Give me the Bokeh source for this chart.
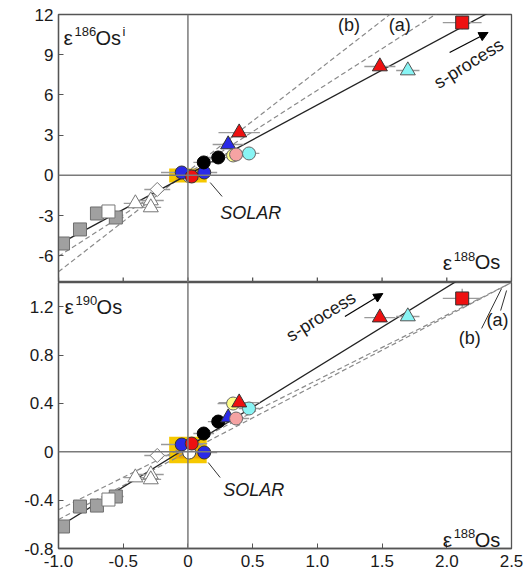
import math
from bokeh.plotting import figure
from bokeh.layouts import column
from bokeh.models import Range1d, FixedTicker, Label, Arrow, NormalHead, Span
from bokeh.embed import file_html
from bokeh.resources import INLINE

# ---------------- data (x = e188Os, top = e186Os_i, bottom = e190Os) -------------
gray_sq_x = [-0.965, -0.834, -0.703, -0.557]
gray_sq_186 = [-5.09, -4.04, -2.85, -3.15]
gray_sq_190 = [-0.618, -0.453, -0.445, -0.370]
gray_sq_xerr = [0.04, 0.05, 0.05, 0.06]

white_sq_x = [-0.614]
white_sq_186 = [-2.70]
white_sq_190 = [-0.395]
white_sq_xerr = [0.06]

white_tri_x = [-0.406, -0.287, -0.287]
white_tri_186 = [-2.10, -1.88, -2.40]
white_tri_190 = [-0.213, -0.188, -0.229]
white_tri_xerr = [0.09, 0.1, 0.08]

white_dia_x = [-0.237]
white_dia_186 = [-1.06]
white_dia_190 = [-0.031]
white_dia_xerr = [0.1]

white_circ_x = [0.010]
white_circ_186 = [-0.05]
white_circ_190 = [-0.006]
white_circ_xerr = [0.1]

blue_circ_x = [-0.048, 0.126]
blue_circ_186 = [0.21, 0.21]
blue_circ_190 = [0.060, -0.006]
blue_circ_xerr = [0.16, 0.1]

red_circ_x = [0.029]
red_circ_186 = [-0.09]
red_circ_190 = [0.068]
red_circ_xerr = [0.12]

black_circ_x = [0.122, 0.234]
black_circ_186 = [0.96, 1.33]
black_circ_190 = [0.151, 0.250]
black_circ_xerr = [0.08, 0.08]

blue_tri_x = [0.311]
blue_tri_186 = [2.30]
blue_tri_190 = [0.283]
blue_tri_xerr = [0.12]

yellow_circ_x = [0.349]
yellow_circ_186 = [1.48]
yellow_circ_190 = [0.399]
yellow_circ_xerr = [0.12]

pink_circ_x = [0.372]
pink_circ_186 = [1.55]
pink_circ_190 = [0.275]
pink_circ_xerr = [0.1]

cyan_circ_x = [0.472]
cyan_circ_186 = [1.63]
cyan_circ_190 = [0.358]
cyan_circ_xerr = [0.08]

red_tri_x = [0.396, 1.483]
red_tri_186 = [3.19, 8.12]
red_tri_190 = [0.407, 1.110]
red_tri_xerr = [0.16, 0.12]

cyan_tri_x = [1.699]
cyan_tri_186 = [7.82]
cyan_tri_190 = [1.119]
cyan_tri_xerr = [0.09]

red_sq_x = [2.119]
red_sq_186 = [11.40]
red_sq_190 = [1.268]
red_sq_xerr = [0.15]
red_sq_yerr_186 = [0.5]
red_sq_yerr_190 = [0.08]

# solar value box (centre, half widths)
solar_x, solar_dx = 0.0, 0.145
solar_186, solar_d186 = -0.015, 0.52
solar_190, solar_d190 = 0.015, 0.11

# reference lines: slope, intercept
solid_186 = (5.2, 0.05)
line_a_186 = (6.2, 0.15)
line_b_186 = (7.5, 0.30)
solid_190 = (0.661, 0.039)
line_a_190 = (0.537, 0.057)
line_b_190 = (0.560, 0.0)
line_x = [-1.0, 2.5]

x_ticks = [-1.0, -0.5, 0, 0.5, 1.0, 1.5, 2.0, 2.5]
x_tick_labels = ["-1.0", "-0.5", "0", "0.5", "1.0", "1.5", "2.0", "2.5"]
y186_ticks = [-6, -3, 0, 3, 6, 9, 12]
y186_labels = ["-6", "-3", "0", "3", "6", "9", "12"]
y190_ticks = [-0.8, -0.4, 0, 0.4, 0.8, 1.2]
y190_labels = ["-0.8", "-0.4", "0", "0.4", "0.8", "1.2"]

FONT = "Liberation Sans"
FRAME = "#555555"
EBAR = "#9a9a9a"

groups = [
    # name, marker, fill, line, size, angle
    ("gray_sq", "square", "#a0a0a0", "#6e6e6e", 13, 0),
    ("white_sq", "square", "#ffffff", "#777777", 13, 0),
    ("white_tri", "triangle", "#ffffff", "#777777", 15, 0),
    ("white_dia", "square", "#ffffff", "#777777", 10, math.pi / 4),
    ("white_circ", "circle", "#ffffff", "#444444", 13, 0),
    ("blue_circ", "circle", "#2a2ae8", "#333333", 13, 0),
    ("red_circ", "circle", "#ee1111", "#333333", 13, 0),
    ("black_circ", "circle", "#000000", "#000000", 13, 0),
    ("blue_tri", "triangle", "#2a2ae8", "#333333", 15, 0),
    ("yellow_circ", "circle", "#ffff88", "#666666", 13, 0),
    ("pink_circ", "circle", "#f5a3a3", "#666666", 13, 0),
    ("cyan_circ", "circle", "#88f4f4", "#666666", 13, 0),
    ("red_tri", "triangle", "#ee1111", "#333333", 15, 0),
    ("cyan_tri", "triangle", "#88f4f4", "#555555", 15, 0),
    ("red_sq", "square", "#ee1111", "#333333", 13, 0),
]
G = globals()


def style(p, yticks, ylabels, show_x):
    p.grid.visible = False
    p.outline_line_color = FRAME
    p.outline_line_width = 1.3
    p.background_fill_color = "white"
    p.border_fill_color = "white"
    for ax in (p.xaxis[0], p.yaxis[0]):
        ax.axis_line_color = FRAME
        ax.axis_line_width = 1.3
        ax.major_tick_line_color = FRAME
        ax.minor_tick_line_color = None
        ax.major_tick_out = 0
        ax.major_tick_in = 5
        ax.major_label_text_font = FONT
        ax.major_label_text_font_size = "17px"
        ax.major_label_text_color = "#1a1a1a"
    p.xaxis.ticker = FixedTicker(ticks=x_ticks)
    p.xaxis.major_label_overrides = {t: l for t, l in zip(x_ticks, x_tick_labels)}
    p.yaxis.ticker = FixedTicker(ticks=yticks)
    p.yaxis.major_label_overrides = {t: l for t, l in zip(yticks, ylabels)}
    p.yaxis.major_label_standoff = 5
    p.xaxis.major_label_standoff = 6
    p.xaxis.visible = show_x


def draw_panel(p, key, solar_y, solar_dy, solid, la, lb):
    # solar box
    p.rect(x=[solar_x], y=[solar_y], width=[2 * solar_dx], height=[2 * solar_dy],
           fill_color="#f6c800", line_color=None)
    p.rect(x=[solar_x], y=[solar_y], width=[1.3 * solar_dx], height=[1.3 * solar_dy],
           fill_color="#e9a000", fill_alpha=0.8, line_color=None)
    p.add_layout(Span(location=0, dimension="width", line_color="#7a7a7a", line_width=1.5))
    p.add_layout(Span(location=0, dimension="height", line_color="#7a7a7a", line_width=1.5))
    # reference lines
    for (m, c) in (la, lb):
        p.line(line_x, [m * v + c for v in line_x], line_color="#8a8a8a",
               line_width=1.2, line_dash="5 3")
    m, c = solid
    p.line(line_x, [m * v + c for v in line_x], line_color="#222222", line_width=1.3)
    # error bars
    for name, *_ in groups:
        xs = G[name + "_x"]
        ys = G[name + "_" + key]
        xe = G[name + "_xerr"]
        p.segment(x0=[a - e for a, e in zip(xs, xe)], y0=ys,
                  x1=[a + e for a, e in zip(xs, xe)], y1=ys,
                  line_color=EBAR, line_width=1.3)
    ye = G["red_sq_yerr_" + key]
    p.segment(x0=red_sq_x, y0=[a - e for a, e in zip(G["red_sq_" + key], ye)],
              x1=red_sq_x, y1=[a + e for a, e in zip(G["red_sq_" + key], ye)],
              line_color=EBAR, line_width=1.3)
    # markers
    for name, marker, fill, line, size, ang in groups:
        p.scatter(G[name + "_x"], G[name + "_" + key], marker=marker, size=size,
                  fill_color=fill, line_color=line, line_width=1, angle=ang)


def text(p, x, y, s, size=18, italic=False, align="left", baseline="alphabetic",
         angle=0.0, xo=0, yo=0):
    p.add_layout(Label(x=x, y=y, text=s, text_font=FONT, text_font_size=f"{size}px",
                       text_font_style="italic" if italic else "normal",
                       text_align=align, text_baseline=baseline, angle=angle,
                       angle_units="deg", x_offset=xo, y_offset=yo,
                       text_color="#1a1a1a"))


def eps_label(p, x, y, mass, tail=""):
    text(p, x, y, "ε", size=21)
    text(p, x, y, mass, size=13, xo=11, yo=6)
    text(p, x, y, "Os", size=20, xo=32)
    if tail:
        text(p, x, y, tail, size=13, xo=59, yo=6)


# ---------------- top panel ----------------
top = figure(width=530, height=282, x_range=Range1d(-1.0, 2.5), y_range=Range1d(-8, 12),
             output_backend="svg", toolbar_location=None,
             min_border_left=58, min_border_right=19, min_border_top=14, min_border_bottom=0)
style(top, y186_ticks, y186_labels, False)
draw_panel(top, "186", solar_186, solar_d186, solid_186, line_a_186, line_b_186)
# inward x ticks at the bottom edge of the upper panel (5 px tall)
tick_h = 5 * 20 / 268
top.segment(x0=x_ticks, y0=[-8] * len(x_ticks), x1=x_ticks,
            y1=[-8 + tick_h] * len(x_ticks), line_color=FRAME, line_width=1.3)
eps_label(top, -0.961, 10.28, "186", "i")
eps_label(top, 1.968, -6.5, "188")
text(top, 0.249, -2.78, "SOLAR", italic=True)
top.line([0.172, 0.264], [-0.54, -1.58], line_color="#333333", line_width=1)
text(top, 1.244, 11.18, "(b)", align="center", baseline="middle")
text(top, 1.637, 11.18, "(a)", align="center", baseline="middle")
text(top, 2.169, 8.34, "s-process", align="center", baseline="middle", angle=32)
top.add_layout(Arrow(end=NormalHead(size=9, fill_color="black", line_color="black"),
                     x_start=2.022, y_start=9.16, x_end=2.319, y_end=10.66,
                     line_color="black", line_width=1.2))

# ---------------- bottom panel ----------------
bot = figure(width=530, height=289, x_range=Range1d(-1.0, 2.5), y_range=Range1d(-0.8, 1.4),
             output_backend="svg", toolbar_location=None,
             min_border_left=58, min_border_right=19, min_border_top=0, min_border_bottom=23)
style(bot, y190_ticks, y190_labels, True)
draw_panel(bot, "190", solar_190, solar_d190, solid_190, line_a_190, line_b_190)
eps_label(bot, -0.953, 1.2015, "190")
eps_label(bot, 1.968, -0.726, "188")
text(bot, 0.272, -0.32, "SOLAR", italic=True)
bot.line([0.157, 0.249], [-0.089, -0.213], line_color="#333333", line_width=1)
text(bot, 2.177, 0.937, "(b)", align="center", baseline="middle")
text(bot, 2.392, 1.086, "(a)", align="center", baseline="middle")
bot.line([2.269, 2.423], [1.02, 1.35], line_color="#333333", line_width=1)
bot.line([2.416, 2.462], [1.168, 1.334], line_color="#333333", line_width=1)
text(bot, 1.028, 1.119, "s-process", align="center", baseline="middle", angle=32)
bot.add_layout(Arrow(end=NormalHead(size=9, fill_color="black", line_color="black"),
                     x_start=1.213, y_start=1.119, x_end=1.506, y_end=1.309,
                     line_color="black", line_width=1.2))

p = column(top, bot, spacing=0)
open("out.html", "w").write(file_html(p, INLINE))
